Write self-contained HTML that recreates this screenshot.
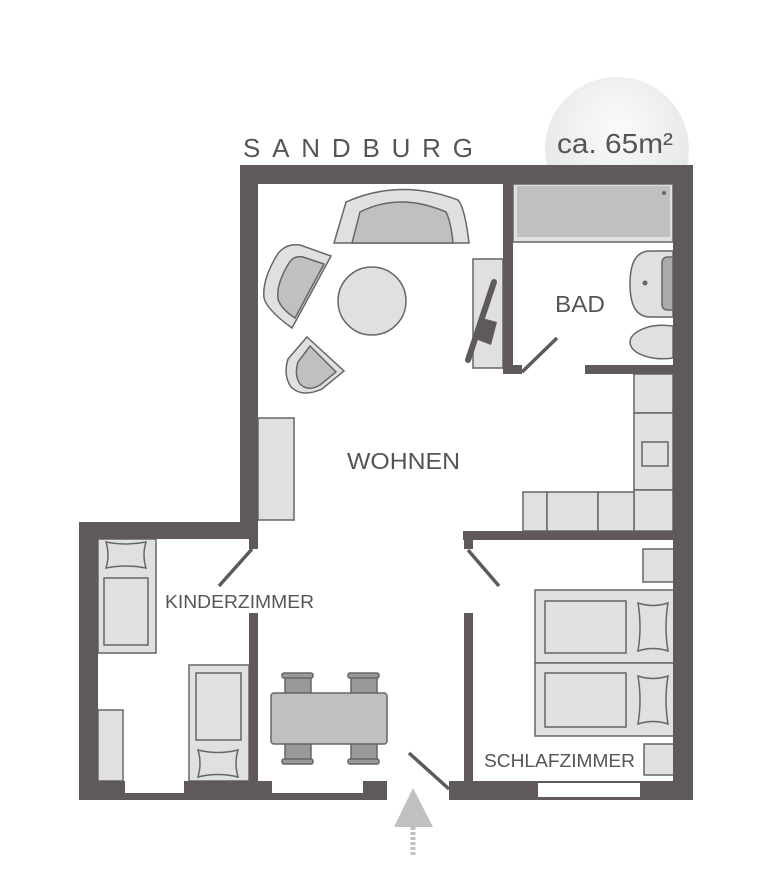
<!DOCTYPE html>
<html><head><meta charset="utf-8"><style>
html,body{margin:0;padding:0;background:#fff;}
svg{display:block;}
text{font-family:"Liberation Sans",sans-serif;fill:#555;}
</style></head><body>
<svg width="777" height="880" viewBox="0 0 777 880" xmlns="http://www.w3.org/2000/svg">
<defs>
<radialGradient id="g" cx="0.5" cy="0.35" r="0.6">
<stop offset="0" stop-color="#fbfbfb"/><stop offset="1" stop-color="#e6e6e6"/>
</radialGradient>
</defs>
<circle cx="617" cy="149" r="72" fill="url(#g)"/>
<rect x="530" y="165" width="200" height="80" fill="#fff"/>
<text x="557" y="153" font-size="28" textLength="116" lengthAdjust="spacingAndGlyphs">ca. 65m²</text>
<text x="243" y="157" font-size="26" textLength="230" lengthAdjust="spacing">SANDBURG</text>

<g fill="#e0e0e0" stroke="#666" stroke-width="1.5">
<rect x="513" y="184" width="160" height="58"/>
<rect x="517" y="186" width="153" height="51" fill="#c0c0c0" stroke="none"/>
<path d="M673,251 L650,251 Q630,251 630,284 Q630,317 650,317 L673,317 Z"/>
<path d="M673,257 L668,257 Q662,257 662,263 L662,304 Q662,310 668,310 L673,310 Z" fill="#aaa"/>
<path d="M673,326 Q658,324 648,327 Q630,333 630,342 Q630,352 648,357 Q660,360 673,358 Z"/>
<rect x="634" y="374" width="39" height="39"/>
<rect x="634" y="413" width="39" height="77"/>
<rect x="642" y="442" width="26" height="24" fill="#e0e0e0"/>
<rect x="634" y="490" width="39" height="41"/>
<rect x="523" y="492" width="24" height="39"/>
<rect x="547" y="492" width="51" height="39"/>
<rect x="598" y="492" width="36" height="39"/>
<path d="M334,243 L346,202 Q400,178 458,200 Q465,208 469,243 Z"/>
<path d="M352,243 L360,212 Q400,192 446,212 Q451,222 453,243 Z" fill="#c0c0c0"/>
<circle cx="372" cy="301" r="34"/>
<path d="M331,256 L300,245 Q285,243 277,255 Q262,280 264,298 Q267,310 292,328 Z"/>
<path d="M324,264 L303,257 Q294,255 289,263 Q276,284 278,299 Q281,309 295,318 Z" fill="#c0c0c0"/>
<path d="M307,337 L344,371 L322,389 Q302,398 291,387 Q283,375 288,359 Z"/>
<path d="M310,346 L336,372 L320,385 Q308,392 300,384 Q294,375 298,362 Z" fill="#c0c0c0"/>
<rect x="473" y="259" width="30" height="109"/>
<rect x="258" y="418" width="36" height="102"/>
<rect x="98" y="539" width="58" height="114"/>
<path d="M106,542 Q126,546 146,542 Q142,555 146,568 Q126,564 106,568 Q110,555 106,542 Z"/>
<rect x="104" y="578" width="44" height="67"/>
<rect x="189" y="665" width="60" height="116"/>
<rect x="196" y="673" width="45" height="67"/>
<path d="M198,750 Q218,755 238,750 Q234,763 238,777 Q218,772 198,777 Q202,763 198,750 Z"/>
<rect x="98" y="710" width="25" height="71"/>
<rect x="643" y="549" width="31" height="33"/>
<rect x="535" y="590" width="139" height="73"/>
<rect x="535" y="663" width="139" height="73"/>
<rect x="545" y="601" width="81" height="52"/>
<rect x="545" y="673" width="81" height="54"/>
<path d="M638,603 Q653,608 668,603 Q664,627 668,651 Q653,646 638,651 Q642,627 638,603 Z"/>
<path d="M638,676 Q653,681 668,676 Q664,700 668,724 Q653,719 638,724 Q642,700 638,676 Z"/>
<rect x="644" y="744" width="30" height="31"/>
<g fill="#999">
<rect x="285" y="676" width="26" height="20"/><rect x="282" y="673" width="31" height="5" rx="2"/>
<rect x="351" y="676" width="26" height="20"/><rect x="348" y="673" width="31" height="5" rx="2"/>
<rect x="285" y="741" width="26" height="20"/><rect x="282" y="759" width="31" height="5" rx="2"/>
<rect x="351" y="741" width="26" height="20"/><rect x="348" y="759" width="31" height="5" rx="2"/>
</g>
<rect x="271" y="693" width="116" height="51" rx="3" fill="#c0c0c0"/>
</g>
<circle cx="664" cy="193" r="2" fill="#666"/>
<circle cx="645" cy="283" r="2.5" fill="#666"/>
<line x1="468" y1="360" x2="494" y2="282" stroke="#5f5a59" stroke-width="6" stroke-linecap="round"/>
<path d="M482,318 L497,322 L491,345 L478,340 Z" fill="#5f5a59"/>

<g fill="#5f5a59">
<rect x="240" y="165" width="453" height="19"/>
<rect x="240" y="165" width="18" height="374"/>
<rect x="249" y="530" width="9" height="19"/>
<rect x="673" y="165" width="20" height="635"/>
<rect x="503" y="184" width="10" height="190"/>
<rect x="503" y="365" width="19" height="9"/>
<rect x="585" y="365" width="88" height="9"/>
<rect x="463" y="531" width="210" height="9"/>
<rect x="464" y="531" width="9" height="18"/>
<rect x="79" y="522" width="179" height="17"/>
<rect x="79" y="522" width="19" height="278"/>
<rect x="249" y="613" width="9" height="168"/>
<rect x="464" y="613" width="9" height="168"/>
<rect x="79" y="781" width="308" height="19"/>
<rect x="449" y="781" width="244" height="19"/>
</g>
<g fill="#fff">
<rect x="125" y="781" width="59" height="12"/>
<rect x="272" y="781" width="91" height="12"/>
<rect x="538" y="783" width="102" height="14"/>
</g>
<g stroke="#5f5a59" stroke-width="3.5">
<line x1="522" y1="372" x2="557" y2="338"/>
<line x1="252" y1="549" x2="219" y2="586"/>
<line x1="468" y1="550" x2="499" y2="586"/>
<line x1="409" y1="753" x2="449" y2="789"/>
</g>
<polygon points="413,788 394,827 433,827" fill="#c0c0c0"/>
<line x1="413" y1="827" x2="413" y2="856" stroke="#c0c0c0" stroke-width="5" stroke-dasharray="3,2"/>

<text x="347" y="469" font-size="23" textLength="113" lengthAdjust="spacingAndGlyphs">WOHNEN</text>
<text x="555" y="312" font-size="23" textLength="50" lengthAdjust="spacingAndGlyphs">BAD</text>
<text x="165" y="608" font-size="18" textLength="149" lengthAdjust="spacingAndGlyphs">KINDERZIMMER</text>
<text x="484" y="767" font-size="18" textLength="151" lengthAdjust="spacingAndGlyphs">SCHLAFZIMMER</text>
</svg>
</body></html>
